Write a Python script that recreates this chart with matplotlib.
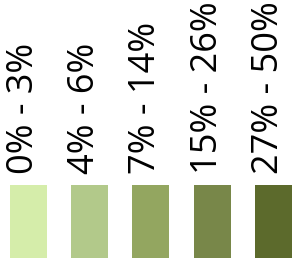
import matplotlib
matplotlib.use("Agg")
import matplotlib.pyplot as plt
from matplotlib.patches import Rectangle

labels = ["0% - 3%", "4% - 6%", "7% - 14%", "15% - 26%", "27% - 50%"]
colors = ["#d5edaa", "#b2c98a", "#93a660", "#788749", "#5c6a2c"]

fig = plt.figure(figsize=(2.92, 2.72), dpi=100)
ax = fig.add_axes([0, 0, 1, 1])
ax.set_xlim(0, 292)
ax.set_ylim(272, 0)
ax.axis("off")

for i, (lab, c) in enumerate(zip(labels, colors)):
    x0 = 10 + i * 61.2
    ax.add_patch(Rectangle((x0, 185), 37, 73, facecolor=c, edgecolor="none"))
    ax.text(x0 + 14, 174, lab, rotation=90, ha="center", va="bottom",
            fontsize=26, family="Open Sans", color="black")

fig.savefig("out.png", dpi=100)
